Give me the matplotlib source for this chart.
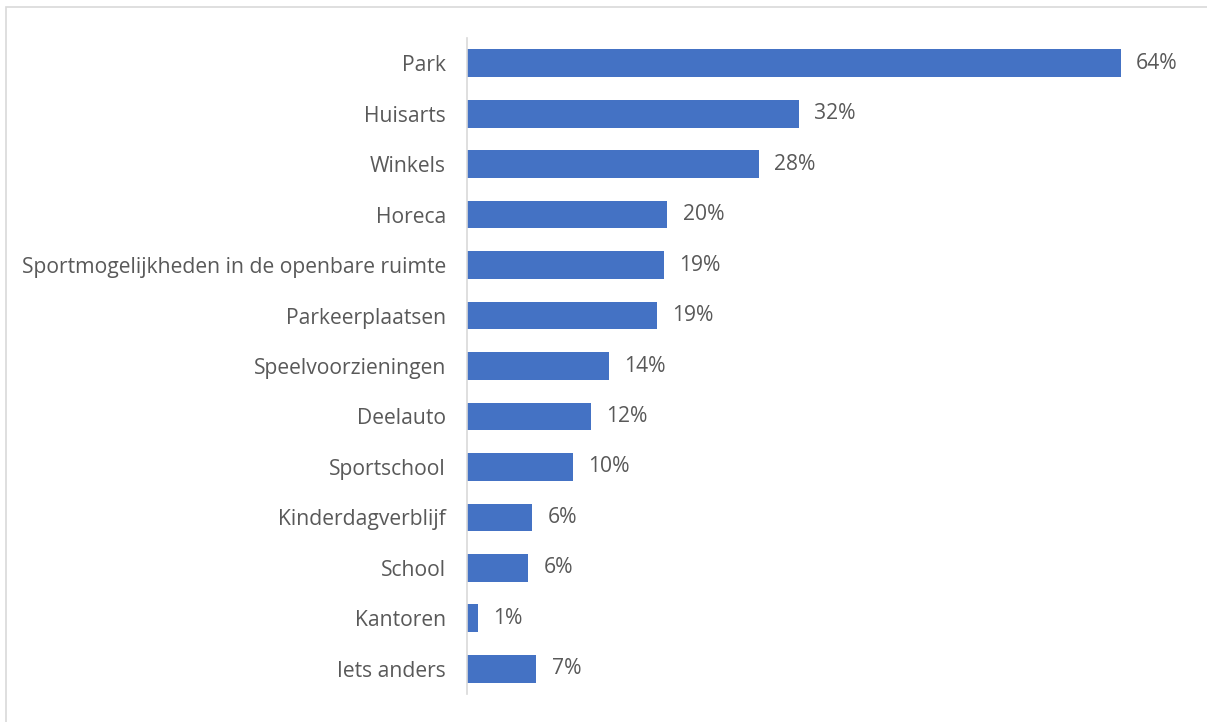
import matplotlib.pyplot as plt
from matplotlib.patches import Rectangle

categories = ['Park', 'Huisarts', 'Winkels', 'Horeca',
              'Sportmogelijkheden in de openbare ruimte', 'Parkeerplaatsen',
              'Speelvoorzieningen', 'Deelauto', 'Sportschool',
              'Kinderdagverblijf', 'School', 'Kantoren', 'Iets anders']
values = [64.0, 32.5, 28.6, 19.6, 19.3, 18.6, 13.9, 12.1, 10.4, 6.4, 6.0, 1.1, 6.8]
value_labels = ['64%', '32%', '28%', '20%', '19%', '19%', '14%', '12%', '10%',
                '6%', '6%', '1%', '7%']

plt.rcParams['font.family'] = ['Open Sans', 'DejaVu Sans']

fig = plt.figure(figsize=(12.07, 7.22), dpi=100)
W, H = 1207, 722
left, right = 467 / W, 1182 / W
bottom, top = 1 - 694 / H, 1 - 38 / H
ax = fig.add_axes([left, bottom, right - left, top - bottom])

text_color = '#595959'
bar_color = '#4472C4'
fs = 15.2

y = list(range(len(categories)))
bars = ax.barh(y, values, height=0.55, color=bar_color)
ax.set_ylim(len(categories) - 0.5, -0.5)
ax.set_xlim(0, 70)

for b, lab in zip(bars, value_labels):
    ax.text(b.get_width() + 1.5, b.get_y() + b.get_height() / 2, lab,
            va='center', ha='left', fontsize=fs, color=text_color)

ax.set_yticks(y)
ax.set_yticklabels(categories, fontsize=fs, color=text_color)
ax.tick_params(axis='y', length=0, pad=15)
ax.set_xticks([])
for s in ['top', 'right', 'bottom']:
    ax.spines[s].set_visible(False)
ax.spines['left'].set_color('#D9D9D9')
ax.spines['left'].set_linewidth(1.2)

# light frame around the chart area
fig.patches.append(Rectangle((6 / W, -0.1), 1.2, 1 - 7 / H + 0.1,
                             transform=fig.transFigure, fill=False,
                             edgecolor='#D9D9D9', linewidth=1.2))

fig.savefig('out.png', dpi=100)
